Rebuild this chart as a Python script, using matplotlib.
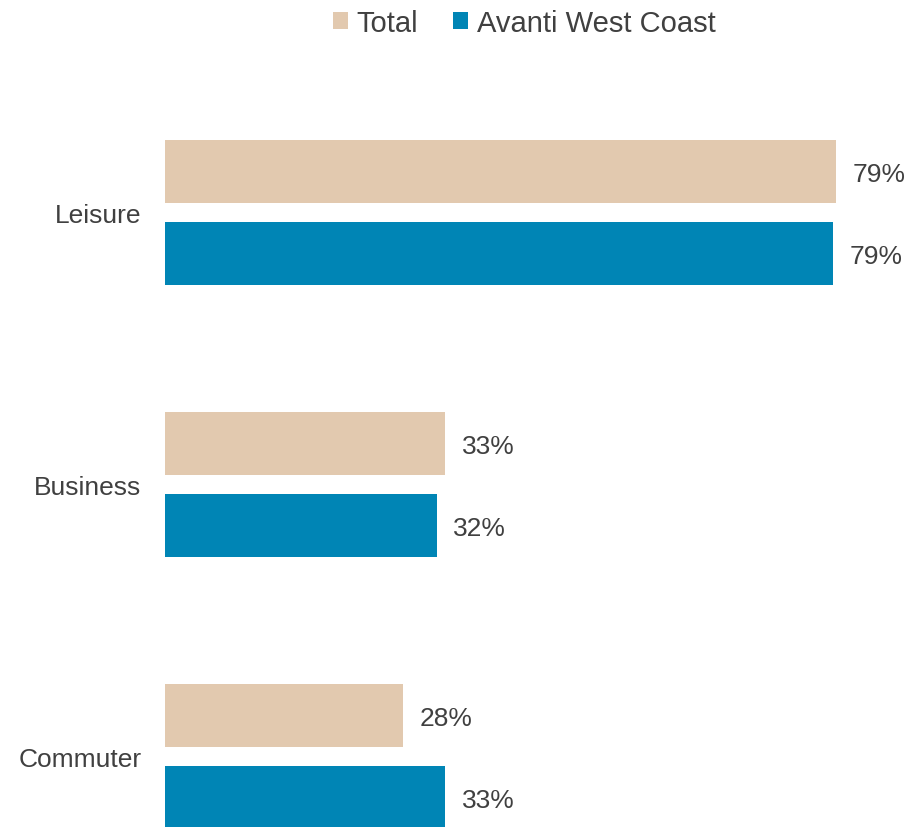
import matplotlib
matplotlib.use("Agg")
import matplotlib.pyplot as plt
from matplotlib.patches import Patch
import numpy as np

plt.rcParams["font.family"] = ["Liberation Sans", "DejaVu Sans"]

categories = ["Leisure", "Business", "Commuter"]
series_names = ["Total", "Avanti West Coast"]
total_values = [79.0, 33.0, 28.0]
avanti_values = [78.6, 32.0, 33.0]

colors = ["#E2C9AF", "#0085B5"]
text_color = "#404040"

fig = plt.figure(figsize=(9.23, 8.28), dpi=100)
ax = fig.add_axes([165 / 923, 0, 758 / 923, 1])

y = np.arange(len(categories))
bar_h = 0.2316
off = 0.1507

for vals, sign, col in [(total_values, -1, colors[0]), (avanti_values, 1, colors[1])]:
    bars = ax.barh(y + sign * off, vals, height=bar_h, color=col, edgecolor="none")
    for b, v in zip(bars, vals):
        ax.annotate(f"{v:.0f}%", xy=(b.get_width(), b.get_y() + b.get_height() / 2),
                    xytext=(12, 0), textcoords="offset points",
                    ha="left", va="center_baseline", fontsize=19, color=text_color)

ax.set_xlim(0, 758 / 8.494)
ax.set_ylim(2.259, -0.785)
ax.set_yticks(y)
ax.set_yticklabels(categories, fontsize=19, color=text_color)
ax.tick_params(axis="y", length=0, pad=17)
ax.set_xticks([])
for s in ax.spines.values():
    s.set_visible(False)
ax.patch.set_alpha(0)

handles = [Patch(facecolor=c, edgecolor="none") for c in colors]
fig.legend(handles, series_names, loc="center", bbox_to_anchor=(0.568, 0.971),
           ncol=2, frameon=False, fontsize=21, labelcolor=text_color,
           handlelength=0.52, handleheight=0.52, handletextpad=0.3,
           columnspacing=1.2)

fig.savefig("out.png", dpi=100)
